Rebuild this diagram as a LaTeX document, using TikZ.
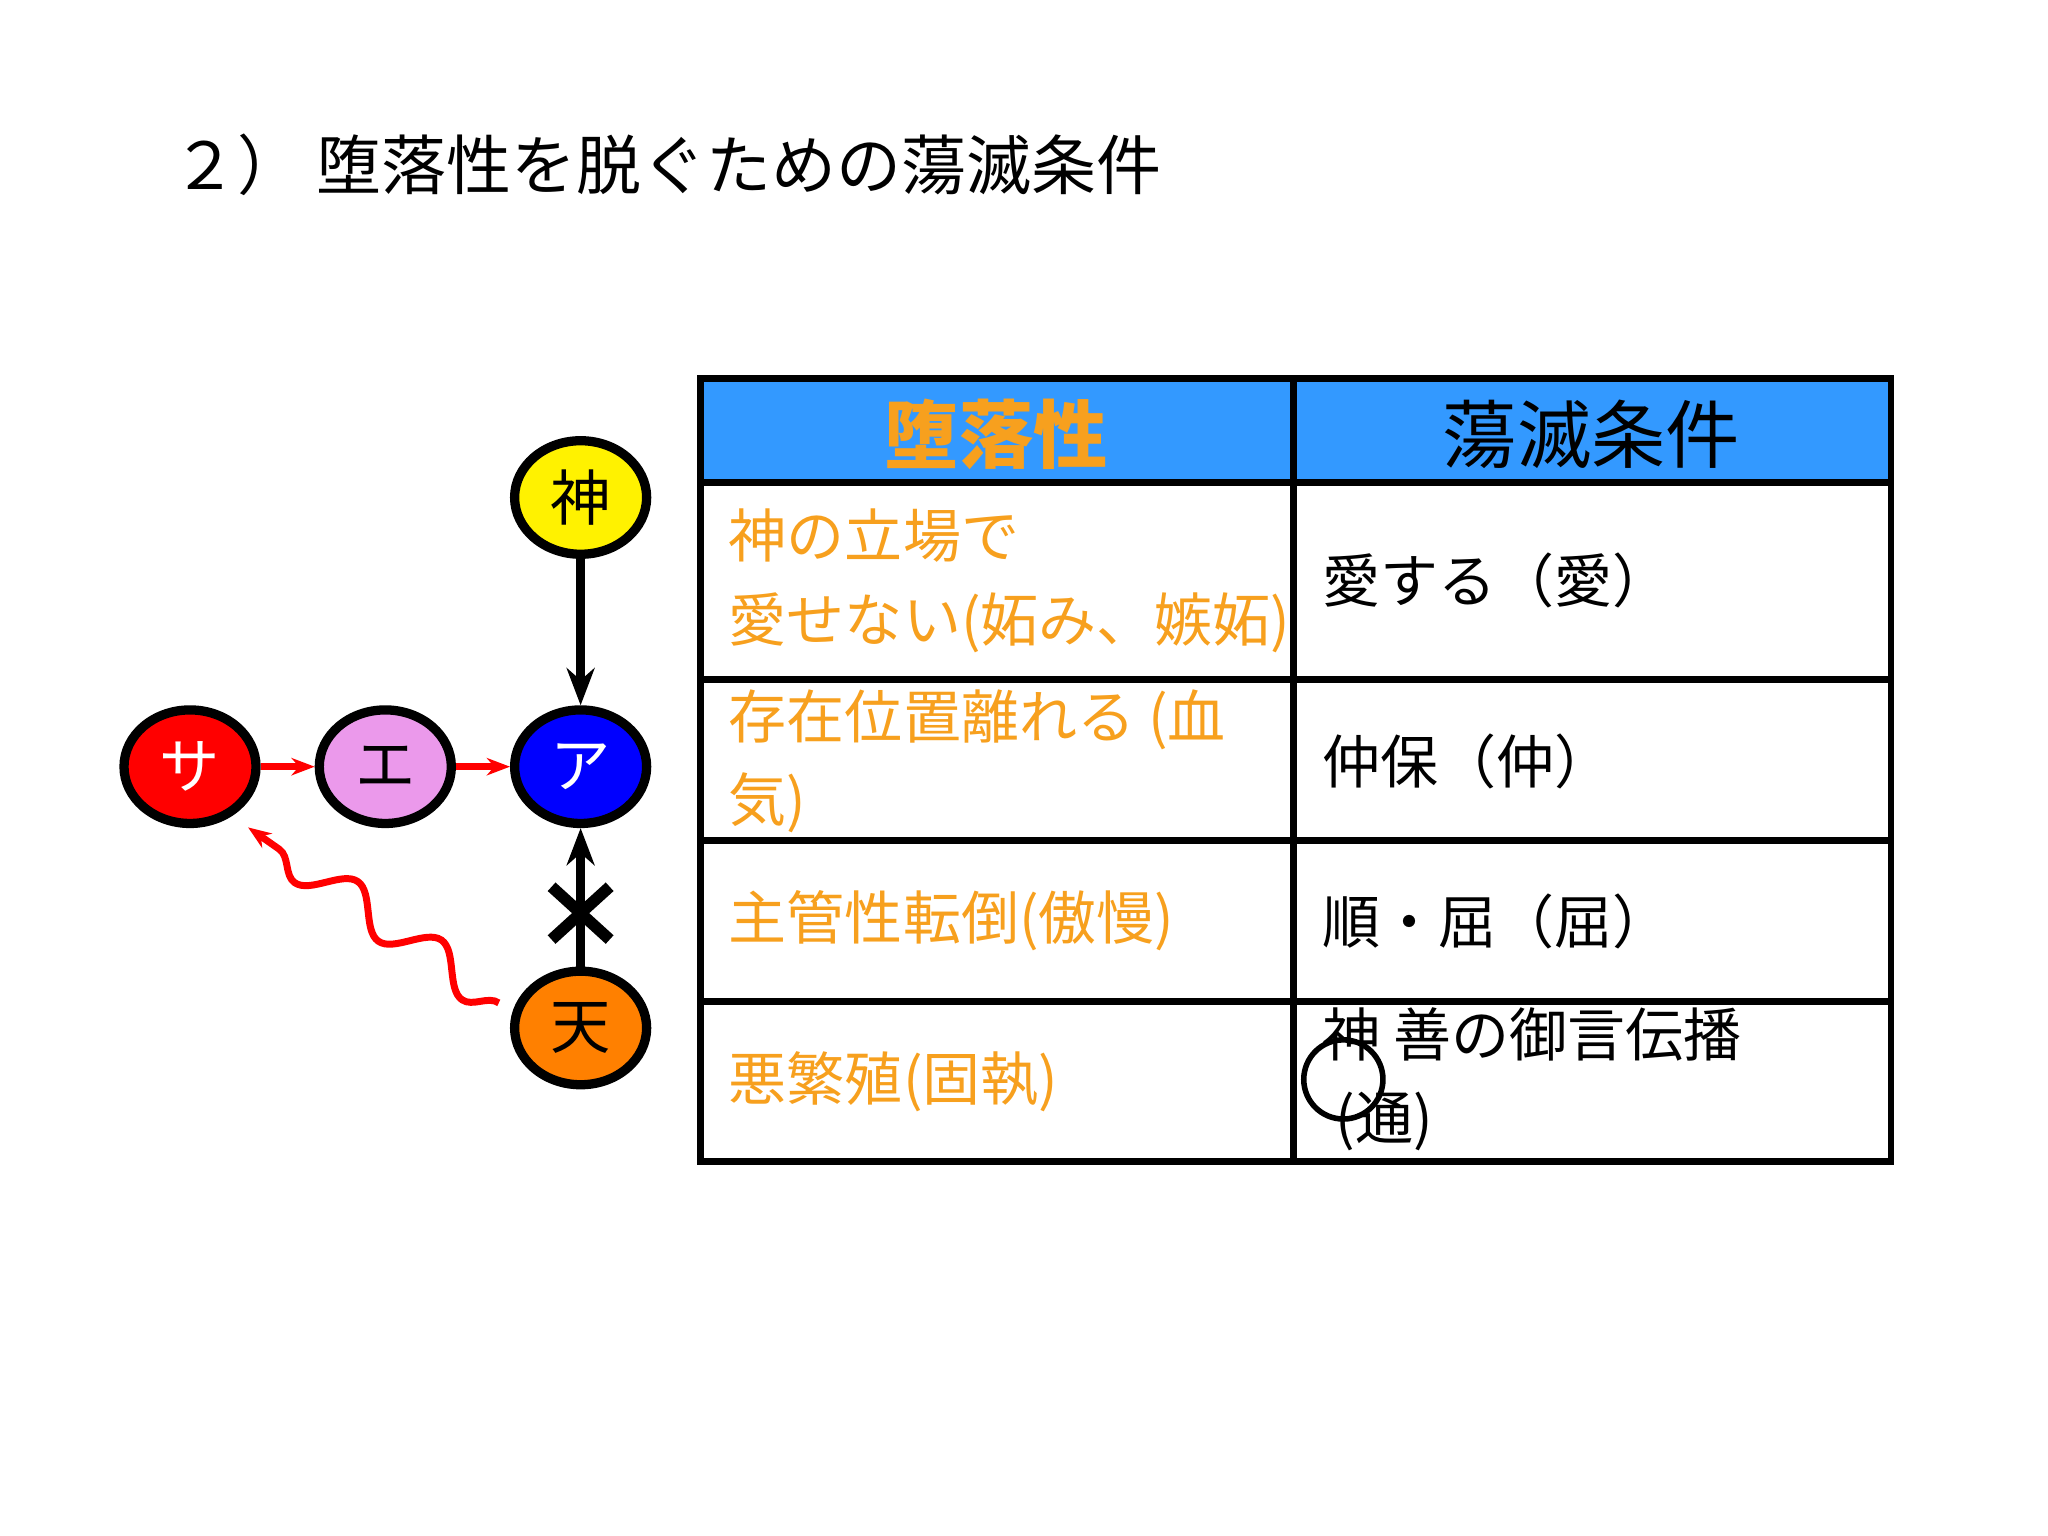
\documentclass[tikz,border=0pt]{standalone}
\usepackage{fontspec}
\setmainfont{Noto Sans CJK JP}
\usetikzlibrary{decorations.pathmorphing,arrows.meta,calc,shapes.geometric}
\definecolor{hdr}{HTML}{3399FF}
\definecolor{org}{HTML}{F7A01E}
\begin{document}
\begin{tikzpicture}[x=0.01cm,y=-0.01cm,
 circ/.style={ellipse,draw=black,line width=2pt,minimum width=1cm,minimum height=0.86cm,inner sep=0pt,font=\fontsize{13pt}{15pt}\selectfont},
 cell/.style={anchor=west,align=left,font=\fontsize{12.5pt}{18pt}\selectfont},
 sn/.style={red,line width=1.5pt,-{Stealth[length=5pt]},decorate,decoration={snake,amplitude=2.5pt,segment length=12pt,post length=5pt}}]
\useasboundingbox (0,0) rectangle (1552,1164);
\node[anchor=west,font=\fontsize{14pt}{16pt}\selectfont] (title) at (118,125) {２）\ 堕落性を脱ぐための蕩滅条件};
\fill[hdr] (531,287) rectangle (1433,366);
\draw[line width=1.5pt] (531,287) rectangle (1433,880);
\foreach \y in {366,515,637,759} \draw[line width=1.5pt] (531,\y) -- (1433,\y);
\draw[line width=1.5pt] (980,287) -- (980,880);
\node[org,font=\bfseries\fontsize{16pt}{18pt}\selectfont] (h1) at (755,329) {堕落性};
\node[font=\fontsize{16pt}{18pt}\selectfont] (h2) at (1206,329) {蕩滅条件};
\node[cell,org] (a1) at (540,440) {神の立場で\\愛せない(妬み、嫉妬)};
\node[cell,org] (a2) at (540,577) {存在位置離れる (血\\気)};
\node[cell,org] (a3) at (540,698) {主管性転倒(傲慢)};
\node[cell,org] (a4) at (540,820) {悪繁殖(固執)};
\node[cell] (b1) at (990,440) {愛する（愛）};
\node[cell] (b2) at (990,577) {仲保（仲）};
\node[cell] (b3) at (990,698) {順・屈（屈）};
\node[cell] (b4) at (990,818) {神 善の御言伝播\\\ (通)};
\draw[line width=1.2pt] (1018,818) circle (30);
\node[circ,fill=yellow] (kami) at (440,377) {神};
\node[circ,fill=blue,text=white] (a) at (440,581) {ア};
\node[circ,fill=violet!40!magenta!40] (e) at (292,581) {エ};
\node[circ,fill=red,text=white] (s) at (144,581) {サ};
\node[circ,fill=orange] (t) at (440,779) {天};
\draw[line width=2pt,-{Stealth[length=8pt]}] (kami) -- (a);
\draw[line width=2pt,-{Stealth[length=8pt]}] (t) -- (a);
\coordinate (x) at (440,692);
\draw[line width=2.5pt] ($(x)+(-22,-20)$) -- ($(x)+(22,20)$) ($(x)+(-22,20)$) -- ($(x)+(22,-20)$);
\draw[sn] (s) -- (e);
\draw[sn] (e) -- (a);
\coordinate (ts) at (378,760);
\coordinate (se) at (188,627);
\draw[sn,decoration={segment length=22pt,amplitude=4pt}] (ts) -- (se);
\end{tikzpicture}
\end{document}
